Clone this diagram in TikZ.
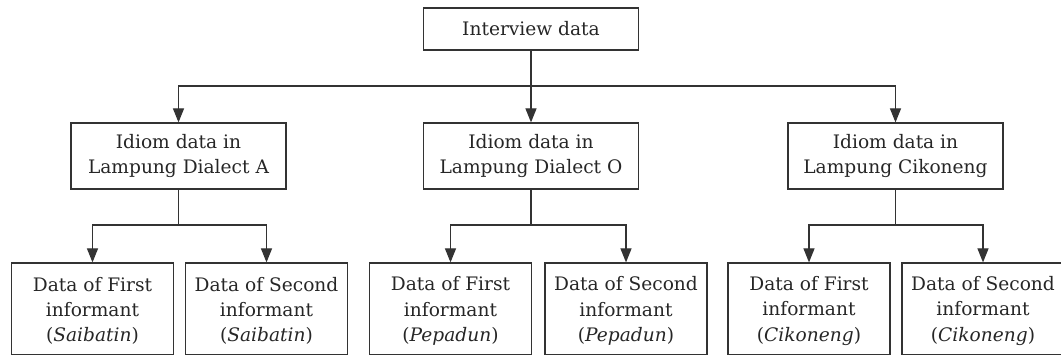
\documentclass[tikz,border=0pt]{standalone}
\usepackage{fontspec}
\setmainfont{DejaVu Serif}
\usetikzlibrary{arrows.meta}
\definecolor{ink}{HTML}{262626}
\definecolor{edge}{HTML}{333333}
\begin{document}
\begin{tikzpicture}[x=1pt,y=-1pt,
  every node/.style={text=ink},
  txt/.style={inner sep=0pt, align=center, font=\fontsize{18.6}{25.3}\selectfont},
  box/.style={txt, draw=edge, line width=1.2pt, rectangle},
  topbox/.style={box, minimum width=215pt, minimum height=42pt},
  midbox/.style={box, minimum width=215pt, minimum height=66pt},
  leafbox/.style={draw=edge, line width=1.2pt, rectangle, inner sep=0pt, minimum width=162pt, minimum height=92pt},
  arr/.style={draw=edge, line width=1.2pt, -{Triangle[width=11pt,length=14pt]}},
  lin/.style={draw=edge, line width=1.2pt}]
\useasboundingbox (0,0) rectangle (1061,355);
\node[topbox] (top) at (531,29) {Interview data};
\node[midbox] (m1) at (178.5,156) {Idiom data in\\Lampung Dialect A};
\node[midbox] (m2) at (531,156) {Idiom data in\\Lampung Dialect O};
\node[midbox] (m3) at (895.5,156) {Idiom data in\\Lampung Cikoneng};
\node[leafbox] (b1) at (92.5,309) {};
\node[leafbox] (b2) at (266.5,309) {};
\node[leafbox] (b3) at (450.5,309) {};
\node[leafbox] (b4) at (626,309) {};
\node[leafbox] (b5) at (809,309) {};
\node[leafbox] (b6) at (983,309) {};
\node[txt] (t1) at (92.5,311) {Data of First\\informant\\(\textit{Saibatin})};
\node[txt] (t2) at (266.5,311) {Data of Second\\informant\\(\textit{Saibatin})};
\node[txt] (t3) at (450.5,311) {Data of First\\informant\\(\textit{Pepadun})};
\node[txt] (t4) at (626,311) {Data of Second\\informant\\(\textit{Pepadun})};
\node[txt] (t5) at (809,311) {Data of First\\informant\\(\textit{Cikoneng})};
\node[txt] (t6) at (983,311) {Data of Second\\informant\\(\textit{Cikoneng})};
\coordinate (h0) at (531,86);
\coordinate (h1) at (178.5,225);
\coordinate (h2) at (531,225);
\coordinate (h3) at (895.5,225);
\draw[arr] (top) -- (m2);
\draw[arr] (h0) -| (m1);
\draw[arr] (h0) -| (m3);
\draw[lin] (m1) -- (h1);
\draw[lin] (m2) -- (h2);
\draw[lin] (m3) -- (h3);
\draw[arr] (h1) -| (b1);
\draw[arr] (h1) -| (b2);
\draw[arr] (h2) -| (b3);
\draw[arr] (h2) -| (b4);
\draw[arr] (h3) -| (b5);
\draw[arr] (h3) -| (b6);
\end{tikzpicture}
\end{document}
